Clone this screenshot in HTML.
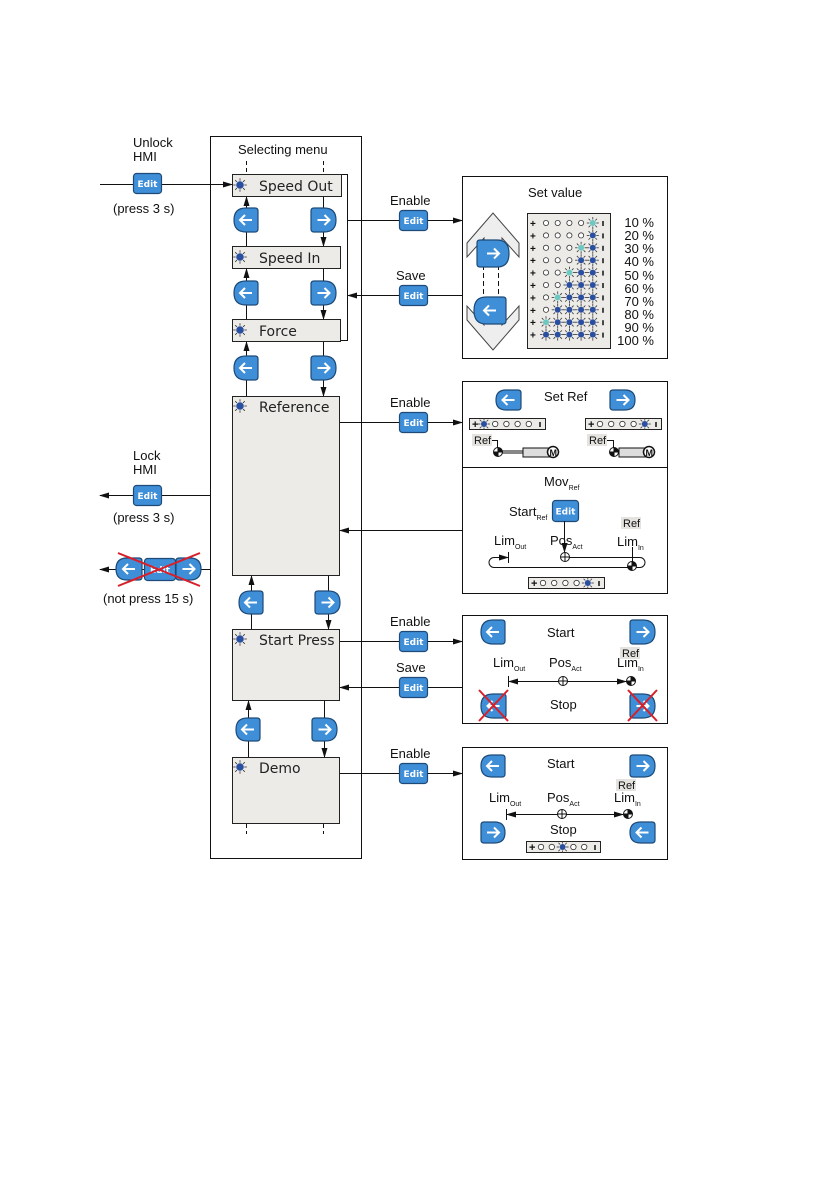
<!DOCTYPE html>
<html><head><meta charset="utf-8"><style>
html,body{margin:0;padding:0;background:#fff}
svg{display:block}
text{font-family:"Liberation Sans",sans-serif;fill:#111}
.m{font-family:"DejaVu Sans","Liberation Sans",sans-serif;font-size:14px;fill:#222}
.l{font-size:13px}
.s{font-size:7px}
.et{font-family:"DejaVu Sans","Liberation Sans",sans-serif;font-size:9px;font-weight:bold;fill:#fff}
</style></head><body>
<svg id="g" width="839" height="1191" viewBox="0 0 839 1191" xmlns="http://www.w3.org/2000/svg">
<defs>
<marker id="a" markerWidth="10" markerHeight="8" refX="9" refY="4" orient="auto" markerUnits="userSpaceOnUse"><path d="M0,1 L10,4 L0,7 Z" fill="#111"/></marker>
</defs>
<g stroke="#111" stroke-width="1" fill="none">
<rect x="210.5" y="136.5" width="151" height="722"/>
<rect x="462.5" y="176.5" width="205" height="182"/>
<rect x="462.5" y="381.5" width="205" height="212"/>
<line x1="462" y1="467.5" x2="667" y2="467.5"/>
<rect x="462.5" y="615.5" width="205" height="108"/>
<rect x="462.5" y="747.5" width="205" height="112"/>
<path d="M341,174.5 H347.5 V340.5 H341"/>
<g stroke-dasharray="4,3"><line x1="246.5" y1="161" x2="246.5" y2="174"/><line x1="323.5" y1="161" x2="323.5" y2="174"/><line x1="246.5" y1="824" x2="246.5" y2="834"/><line x1="323.5" y1="824" x2="323.5" y2="834"/></g>
</g>
<g fill="#ecebe8" stroke="#222" stroke-width="1">
<rect x="232.5" y="174.5" width="109" height="22"/>
<rect x="232.5" y="246.5" width="108" height="22"/>
<rect x="232.5" y="319.5" width="108" height="22"/>
<rect x="232.5" y="396.5" width="107" height="179"/>
<rect x="232.5" y="629.5" width="107" height="71"/>
<rect x="232.5" y="757.5" width="107" height="66"/>
</g>
<text class="m" x="259" y="191">Speed Out</text>
<text class="m" x="259" y="263">Speed In</text>
<text class="m" x="259" y="336">Force</text>
<text class="m" x="259" y="412">Reference</text>
<text class="m" x="259" y="645">Start Press</text>
<text class="m" x="259" y="773">Demo</text>
<text class="l" x="238" y="154">Selecting menu</text>
<g stroke="#111" fill="none">
<line x1="246.5" y1="246" x2="246.5" y2="197" marker-end="url(#a)"/>
<line x1="323.5" y1="197" x2="323.5" y2="246" marker-end="url(#a)"/>
<line x1="246.5" y1="319" x2="246.5" y2="269" marker-end="url(#a)"/>
<line x1="323.5" y1="269" x2="323.5" y2="319" marker-end="url(#a)"/>
<line x1="246.5" y1="396" x2="246.5" y2="342" marker-end="url(#a)"/>
<line x1="323.5" y1="342" x2="323.5" y2="396" marker-end="url(#a)"/>
<line x1="251.5" y1="629" x2="251.5" y2="576" marker-end="url(#a)"/>
<line x1="328.5" y1="576" x2="328.5" y2="629" marker-end="url(#a)"/>
<line x1="248.5" y1="757" x2="248.5" y2="701" marker-end="url(#a)"/>
<line x1="324.5" y1="701" x2="324.5" y2="757" marker-end="url(#a)"/>
<line x1="100" y1="184.5" x2="232" y2="184.5" marker-end="url(#a)"/>
<line x1="347" y1="220.5" x2="462" y2="220.5" marker-end="url(#a)"/>
<line x1="462" y1="295.5" x2="348" y2="295.5" marker-end="url(#a)"/>
<line x1="340" y1="422.5" x2="462" y2="422.5" marker-end="url(#a)"/>
<line x1="462" y1="530.5" x2="340" y2="530.5" marker-end="url(#a)"/>
<line x1="210" y1="495.5" x2="100" y2="495.5" marker-end="url(#a)"/>
<line x1="210" y1="569.5" x2="100" y2="569.5" marker-end="url(#a)"/>
<line x1="340" y1="641.5" x2="462" y2="641.5" marker-end="url(#a)"/>
<line x1="462" y1="687.5" x2="340" y2="687.5" marker-end="url(#a)"/>
<line x1="340" y1="773.5" x2="462" y2="773.5" marker-end="url(#a)"/>
</g>
<g id="dyn"></g>
<text class="l" x="133" y="147">Unlock</text><text class="l" x="133" y="161">HMI</text>
<text class="l" x="113" y="213">(press 3 s)</text>
<text class="l" x="133" y="460">Lock</text><text class="l" x="133" y="474">HMI</text>
<text class="l" x="113" y="522">(press 3 s)</text>
<text class="l" x="103" y="603">(not press 15 s)</text>
<text class="l" x="390" y="205">Enable</text>
<text class="l" x="396" y="280">Save</text>
<text class="l" x="390" y="407">Enable</text>
<text class="l" x="390" y="626">Enable</text>
<text class="l" x="396" y="672">Save</text>
<text class="l" x="390" y="758">Enable</text>
<text class="l" x="528" y="197">Set value</text>
<g class="l" text-anchor="end" font-size="12">
<text x="654" y="227">10 %</text><text x="654" y="240">20 %</text><text x="654" y="253">30 %</text><text x="654" y="266">40 %</text><text x="654" y="280">50 %</text><text x="654" y="293">60 %</text><text x="654" y="306">70 %</text><text x="654" y="319">80 %</text><text x="654" y="332">90 %</text><text x="654" y="345">100 %</text>
</g>
<text class="l" x="544" y="401">Set Ref</text>
<text class="l" x="544" y="486">Mov<tspan class="s" dy="4">Ref</tspan></text>
<text class="l" x="509" y="516">Start<tspan class="s" dy="4">Ref</tspan></text>
<text class="l" x="494" y="545">Lim<tspan class="s" dy="4">Out</tspan></text>
<text class="l" x="550" y="545">Pos<tspan class="s" dy="4">Act</tspan></text>
<text class="l" x="617" y="546">Lim<tspan class="s" dy="4">In</tspan></text>
<text class="l" x="547" y="637">Start</text>
<text class="l" x="493" y="667">Lim<tspan class="s" dy="4">Out</tspan></text>
<text class="l" x="549" y="667">Pos<tspan class="s" dy="4">Act</tspan></text>
<text class="l" x="617" y="667">Lim<tspan class="s" dy="4">In</tspan></text>
<text class="l" x="550" y="709">Stop</text>
<text class="l" x="547" y="768">Start</text>
<text class="l" x="489" y="802">Lim<tspan class="s" dy="4">Out</tspan></text>
<text class="l" x="547" y="802">Pos<tspan class="s" dy="4">Act</tspan></text>
<text class="l" x="614" y="802">Lim<tspan class="s" dy="4">In</tspan></text>
<text class="l" x="550" y="834">Stop</text>
<g id="reflabels"></g>
</svg>
<script>
var NS="http://www.w3.org/2000/svg",D=document.getElementById("dyn"),R=document.getElementById("reflabels");
function el(t,a,p){var e=document.createElementNS(NS,t);for(var k in a)e.setAttribute(k,a[k]);(p||D).appendChild(e);return e;}
var BL="#3f8fd8",BS="#1d4a78";
function edit(x,y,w,h){w=w||28;h=h||20;el("rect",{x:x+.5,y:y+.5,width:w,height:h,rx:3,fill:BL,stroke:BS,"stroke-width":1.2});var t=el("text",{x:x+w/2+.5,y:y+h/2+4,"text-anchor":"middle","class":"et"});t.textContent="Edit";}
function arrow(cx,cy,dir){var s=dir;el("path",{d:"M"+(cx-6*s)+" "+cy+" H"+(cx+6*s)+" M"+(cx+1*s)+" "+(cy-5)+" L"+(cx+6*s)+" "+cy+" L"+(cx+1*s)+" "+(cy+5),stroke:"#fff","stroke-width":2,fill:"none"});}
function btn(x,y,w,h,dir){var r=Math.min(h/2,12),d;
 if(dir>0)d="M"+(x+3)+" "+y+" H"+(x+w-r)+" Q"+(x+w)+" "+y+" "+(x+w)+" "+(y+h/2)+" Q"+(x+w)+" "+(y+h)+" "+(x+w-r)+" "+(y+h)+" H"+(x+3)+" Q"+x+" "+(y+h)+" "+x+" "+(y+h-3)+" V"+(y+3)+" Q"+x+" "+y+" "+(x+3)+" "+y+"Z";
 else d="M"+(x+w-3)+" "+y+" H"+(x+r)+" Q"+x+" "+y+" "+x+" "+(y+h/2)+" Q"+x+" "+(y+h)+" "+(x+r)+" "+(y+h)+" H"+(x+w-3)+" Q"+(x+w)+" "+(y+h)+" "+(x+w)+" "+(y+h-3)+" V"+(y+3)+" Q"+(x+w)+" "+y+" "+(x+w-3)+" "+y+"Z";
 el("path",{d:d,fill:BL,stroke:BS,"stroke-width":1.2});arrow(x+w/2,y+h/2,dir);}
function star(cx,cy,c,r){r=r||3.5;for(var i=0;i<8;i++){var a=i*Math.PI/4;el("line",{x1:cx+Math.cos(a)*(r+.5),y1:cy+Math.sin(a)*(r+.5),x2:cx+Math.cos(a)*(r+3),y2:cy+Math.sin(a)*(r+3),stroke:"#333","stroke-width":.8});}
 el("circle",{cx:cx,cy:cy,r:r,fill:c});}
function ledbar(x,y,w,pos){el("rect",{x:x+.5,y:y+.5,width:w,height:11,fill:"#ecebe8",stroke:"#222"});
 var sp=(w-20)/5;el("text",{x:x+3,y:y+10,"font-size":"11","font-weight":"bold"}).textContent="+";
 for(var i=0;i<5;i++){var cx=x+15+i*sp;if(i==pos)star(cx,y+6,"#2b4fa0",3);else el("circle",{cx:cx,cy:y+6,r:2.7,fill:"#fff",stroke:"#333","stroke-width":.8});}
 el("line",{x1:x+w-5,y1:y+4,x2:x+w-5,y2:y+9,stroke:"#111","stroke-width":1.5});}
function cross(x1,y1,x2,y2){el("path",{d:"M"+x1+" "+y1+" L"+x2+" "+y2+" M"+x2+" "+y1+" L"+x1+" "+y2,stroke:"#d8202a","stroke-width":2,fill:"none"});}
function target(cx,cy,fill){el("circle",{cx:cx,cy:cy,r:4.5,fill:"#fff",stroke:"#111"});el("path",{d:"M"+(cx-4.5)+" "+cy+" H"+(cx+4.5)+" M"+cx+" "+(cy-4.5)+" V"+(cy+4.5),stroke:"#111"});if(fill)el("path",{d:"M"+cx+" "+cy+" L"+cx+" "+(cy+4.5)+" A4.5 4.5 0 0 1 "+(cx-4.5)+" "+cy+"Z M"+cx+" "+cy+" L"+cx+" "+(cy-4.5)+" A4.5 4.5 0 0 1 "+(cx+4.5)+" "+cy+"Z",fill:"#111"});}
function reflab(x,y){el("rect",{x:x,y:y,width:20,height:12,fill:"#e4e3e0"},R);var t=el("text",{x:x+2,y:y+10,"font-size":"11"},R);t.textContent="Ref";}
[[240,185],[240,257],[240,330],[240,406],[240,639],[240,767]].forEach(function(p){star(p[0],p[1],"#2b4fa0",3.8);});
btn(234,208,24,24,-1);btn(311,208,25,24,1);
btn(234,281,24,24,-1);btn(311,281,25,24,1);
btn(234,356,24,24,-1);btn(311,356,25,24,1);
btn(239,591,24,23,-1);btn(315,591,25,23,1);
btn(236,718,24,23,-1);btn(312,718,25,23,1);
edit(133,173);edit(399,210);edit(399,285);edit(399,412);edit(133,485);edit(399,631);edit(399,677);edit(399,763);edit(552,500,26,21);
btn(116,558,26,22,-1);edit(144,558,31,22);btn(176,558,25,22,1);cross(118,553,200,586);
function chev(x,y,up){var d=up?"M"+x+" "+(y+30)+" L"+(x+26)+" "+y+" L"+(x+52)+" "+(y+30)+" L"+(x+52)+" "+(y+44)+" L"+(x+35)+" "+(y+25)+" L"+(x+35)+" "+(y+40)+" L"+(x+17)+" "+(y+40)+" L"+(x+17)+" "+(y+25)+" L"+x+" "+(y+44)+"Z":
 "M"+x+" "+(y+14)+" L"+(x+26)+" "+(y+44)+" L"+(x+52)+" "+(y+14)+" L"+(x+52)+" "+y+" L"+(x+35)+" "+(y+19)+" L"+(x+35)+" "+(y+4)+" L"+(x+17)+" "+(y+4)+" L"+(x+17)+" "+(y+19)+" L"+x+" "+y+"Z";
 el("path",{d:d,fill:"#eeeeee",stroke:"#444"});}
chev(467,213,true);chev(467,306,false);
el("path",{d:"M483.5 265 V300 M498.5 265 V300",stroke:"#111","stroke-dasharray":"5,3"});
btn(477,240,32,27,1);btn(474,297,32,27,-1);
el("rect",{x:527.5,y:213.5,width:83,height:135,fill:"#ecebe8",stroke:"#222"});
for(var i=0;i<10;i++){var y=223+i*12.4;el("text",{x:530,y:y+4,"font-size":"10","font-weight":"bold"}).textContent="+";
 var k=Math.floor(i/2)+1,light=(i%2==0);
 for(var c=0;c<5;c++){var cx=546+c*11.7;var first=5-k;
  if(c>first||(c==first&&!light))star(cx,y,"#2b4fa0",3);else if(c==first&&light)star(cx,y,"#6cc8c0",3);else el("circle",{cx:cx,cy:y,r:2.6,fill:"#fff",stroke:"#333","stroke-width":.8});}
 el("line",{x1:603,y1:y-2,x2:603,y2:y+3,stroke:"#111","stroke-width":1.5});}
btn(496,390,25,20,-1);btn(610,390,25,20,1);
ledbar(469,418,76,0);ledbar(585,418,76,4);
reflab(472,434);reflab(587,434);
el("path",{d:"M491 440.5 H497.5 V449",stroke:"#111",fill:"none"});el("path",{d:"M607 440.5 H613.5 V449",stroke:"#111",fill:"none"});
[[498,553],[614,649]].forEach(function(p){el("line",{x1:p[0],y1:452,x2:p[1]-30,y2:452,stroke:"#111","stroke-width":3});el("line",{x1:p[0],y1:452,x2:p[1]-30,y2:452,stroke:"#fff","stroke-width":1});
 el("rect",{x:p[1]-30,y:448,width:28,height:9,fill:"#ddd",stroke:"#111"});el("circle",{cx:p[1],cy:452,r:5.5,fill:"#fff",stroke:"#111","stroke-width":1.5});
 el("text",{x:p[1]-3.5,y:456,"font-size":"9","font-weight":"bold"}).textContent="M";target(p[0],452,true);});
reflab(621,517);
el("line",{x1:564.5,y1:521,x2:564.5,y2:552,stroke:"#111","marker-end":"url(#a)"});
el("path",{d:"M565 557.5 H640 A5 5 0 0 1 640 567.5 H494 A5 5 0 0 1 494 557.5 H503",stroke:"#111",fill:"none"});
el("line",{x1:500,y1:557.5,x2:508,y2:557.5,stroke:"#111","marker-end":"url(#a)"});el("line",{x1:508.5,y1:552,x2:508.5,y2:563,stroke:"#111"});
el("line",{x1:632.5,y1:547,x2:632.5,y2:566,stroke:"#111"});
target(565,557,false);target(632,566,true);ledbar(528,577,76,4);
btn(481,620,24,24,-1);btn(630,620,25,24,1);reflab(620,647);
el("line",{x1:628,y1:681.5,x2:509,y2:681.5,stroke:"#111","marker-end":"url(#a)"});el("line",{x1:600,y1:681.5,x2:626,y2:681.5,stroke:"#111","marker-end":"url(#a)"});
el("line",{x1:508.5,y1:676,x2:508.5,y2:687,stroke:"#111"});target(563,681,false);target(631,681,true);
btn(481,694,25,24,-1);btn(630,694,25,24,1);cross(479,690,508,721);cross(628,690,657,721);
btn(481,755,24,22,-1);btn(630,755,25,22,1);reflab(616,779);
el("line",{x1:626,y1:814.5,x2:507,y2:814.5,stroke:"#111","marker-end":"url(#a)"});el("line",{x1:600,y1:814.5,x2:623,y2:814.5,stroke:"#111","marker-end":"url(#a)"});
el("line",{x1:506.5,y1:809,x2:506.5,y2:820,stroke:"#111"});target(562,814,false);target(628,814,true);
btn(481,822,24,21,1);btn(630,822,25,21,-1);ledbar(526,841,74,2);
</script>
</body></html>
